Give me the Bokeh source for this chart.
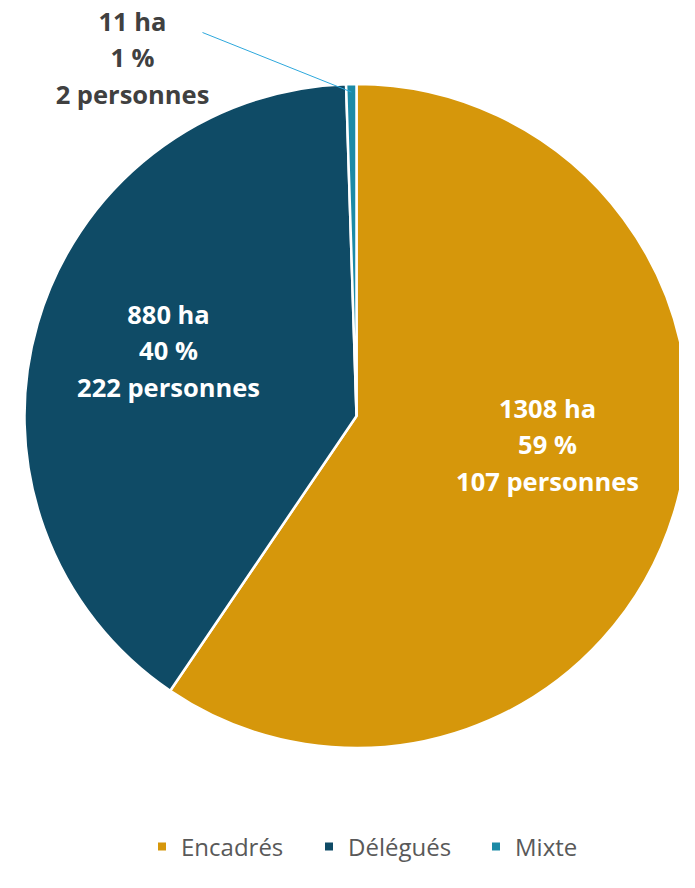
import math
from bokeh.plotting import figure
from bokeh.models import Range1d, ColumnDataSource
from bokeh.core.properties import value
from bokeh.embed import file_html
from bokeh.resources import INLINE

# ---- data ----
categories = ["Encadrés", "Délégués", "Mixte"]
hectares = [1308, 880, 11]
percents = [59, 40, 1]
persons = [107, 222, 2]
colors = ["#D6970B", "#0F4B66", "#1B8AA6"]

# ---- layout: data units = screen pixels (x right, y = -pixel_y) ----
W, H = 679, 872
cx, cy, R = 356, -415.5, 332

p = figure(width=W, height=H, output_backend="svg", toolbar_location=None,
           x_range=Range1d(0, W), y_range=Range1d(-H, 0),
           min_border=0, outline_line_color=None)
p.axis.visible = False
p.grid.visible = False
p.background_fill_color = "white"
p.border_fill_color = "white"

total = sum(hectares)
starts, ends = [], []
a = math.pi / 2
for h in hectares:
    starts.append(a)
    a -= 2 * math.pi * h / total
    ends.append(a)

src = ColumnDataSource(dict(start=starts, end=ends, color=colors, cat=categories))
p.wedge(x=cx, y=cy, radius=R, start_angle="start", end_angle="end",
        direction="clock", fill_color="color", line_color="white", line_width=2.5,
        source=src)

labels = [f"{h} ha\n{pc} %\n{ps} personnes" for h, pc, ps in zip(hectares, percents, persons)]
# label anchor positions (layout)
lab_x = [547, 168, 132]
lab_y = [-444, -350, -57]
lab_col = ["white", "white", "#404040"]
p.text(x=lab_x, y=lab_y, text=labels, text_color=lab_col,
       text_font=value("Open Sans"), text_font_style="bold",
       text_font_size="25.5px",
       text_align="center", text_baseline="middle", text_line_height=1.07)

# leader line for the small slice
mid_mixte = (starts[2] + ends[2]) / 2
ex = cx + (R - 8) * math.cos(mid_mixte)
ey = cy + (R - 8) * math.sin(mid_mixte)
p.line(x=[202, ex], y=[-32, ey], line_color="#2EA8DC", line_width=1)

# legend
leg_x = [161.5, 328.5, 495.5]
leg_y = -846
p.scatter(x=leg_x, y=[leg_y] * 3, marker="square", size=8, fill_color=colors, line_color=None)
p.text(x=[x + 19 for x in leg_x], y=[leg_y] * 3, text=categories, text_color="#595959",
       text_font=value("Open Sans"), text_font_size="24px",
       text_baseline="middle")

open("out.html", "w").write(file_html(p, INLINE))
